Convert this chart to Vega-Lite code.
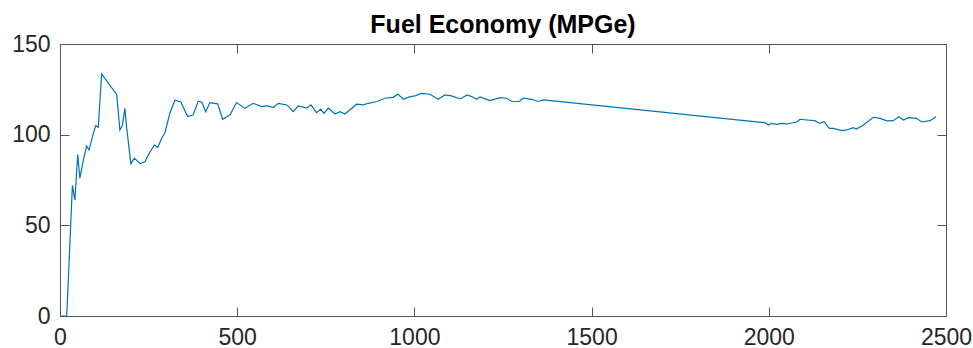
{
  "$schema": "https://vega.github.io/schema/vega-lite/v6.json",
  "width": 886,
  "height": 272,
  "autosize": "none",
  "padding": {"left": 60, "top": 44, "right": 27, "bottom": 32},
  "background": "white",
  "title": {"text": "Fuel Economy (MPGe)", "font": "Liberation Sans", "fontSize": 25, "fontWeight": "bold", "color": "#000000", "anchor": "middle", "baseline": "bottom", "offset": 4, "dy": 34},
  "config": {"view": {"stroke": null}},
  "data": {"values": [
    {"d": 0, "m": 0}, {"d": 14, "m": 0}, {"d": 19, "m": 0}, {"d": 35, "m": 72}, {"d": 42, "m": 64},
    {"d": 50, "m": 89}, {"d": 56, "m": 76}, {"d": 66, "m": 86}, {"d": 75, "m": 93.7}, {"d": 82, "m": 91.5},
    {"d": 94, "m": 100.7}, {"d": 101, "m": 105}, {"d": 108, "m": 104}, {"d": 117.5, "m": 133.5}, {"d": 160, "m": 122},
    {"d": 169, "m": 102.6}, {"d": 176, "m": 105}, {"d": 183, "m": 114.5}, {"d": 188, "m": 104}, {"d": 200, "m": 84},
    {"d": 210, "m": 87}, {"d": 226, "m": 84}, {"d": 240, "m": 85}, {"d": 249, "m": 88.8}, {"d": 266, "m": 94.3},
    {"d": 276, "m": 93}, {"d": 287, "m": 98}, {"d": 296, "m": 101}, {"d": 310, "m": 111.8}, {"d": 324, "m": 119},
    {"d": 341, "m": 118}, {"d": 360, "m": 110}, {"d": 376, "m": 111}, {"d": 390, "m": 118.5}, {"d": 400, "m": 118},
    {"d": 411, "m": 112.7}, {"d": 423, "m": 117.7}, {"d": 445, "m": 117}, {"d": 459, "m": 108.5}, {"d": 480, "m": 111},
    {"d": 498, "m": 117.7}, {"d": 522, "m": 114.5}, {"d": 545, "m": 117.3}, {"d": 569, "m": 115.5}, {"d": 583, "m": 116},
    {"d": 602, "m": 115}, {"d": 616, "m": 117.3}, {"d": 640, "m": 116.4}, {"d": 658, "m": 112.7}, {"d": 672, "m": 115.8},
    {"d": 696, "m": 114.6}, {"d": 708, "m": 116.4}, {"d": 724, "m": 112.1}, {"d": 735, "m": 114}, {"d": 745, "m": 111.8},
    {"d": 757, "m": 114.6}, {"d": 776, "m": 111.4}, {"d": 790, "m": 112.7}, {"d": 804, "m": 111.4}, {"d": 837, "m": 116.8},
    {"d": 856, "m": 116.4}, {"d": 870, "m": 117.3}, {"d": 894, "m": 118.3}, {"d": 917, "m": 120.1}, {"d": 940, "m": 120.6},
    {"d": 953, "m": 122.4}, {"d": 969, "m": 119.5}, {"d": 988, "m": 121}, {"d": 1002, "m": 121.4}, {"d": 1020, "m": 122.8},
    {"d": 1044, "m": 122.3}, {"d": 1067, "m": 119.5}, {"d": 1086, "m": 121.9}, {"d": 1105, "m": 121.4}, {"d": 1129, "m": 119.7},
    {"d": 1149, "m": 121.9}, {"d": 1166, "m": 120.6}, {"d": 1176, "m": 119.5}, {"d": 1185, "m": 120.8}, {"d": 1213, "m": 118.8},
    {"d": 1242, "m": 120.4}, {"d": 1260, "m": 120.1}, {"d": 1275, "m": 118.3}, {"d": 1296, "m": 118.3}, {"d": 1307, "m": 120.1},
    {"d": 1331, "m": 119.5}, {"d": 1348, "m": 118.3}, {"d": 1364, "m": 119.2}, {"d": 1989, "m": 106.6}, {"d": 1999, "m": 105.3},
    {"d": 2008, "m": 106.2}, {"d": 2022, "m": 105.7}, {"d": 2036, "m": 106.2}, {"d": 2050, "m": 105.9}, {"d": 2079, "m": 107},
    {"d": 2088, "m": 108.5}, {"d": 2107, "m": 108.1}, {"d": 2130, "m": 107.7}, {"d": 2143, "m": 106.2}, {"d": 2156, "m": 107.2},
    {"d": 2171, "m": 103.5}, {"d": 2182, "m": 103.5}, {"d": 2206, "m": 102.2}, {"d": 2220, "m": 102.6}, {"d": 2238, "m": 103.9},
    {"d": 2247, "m": 103.1}, {"d": 2266, "m": 105.2}, {"d": 2295, "m": 109.6}, {"d": 2314, "m": 109}, {"d": 2333, "m": 107.6},
    {"d": 2351, "m": 107.7}, {"d": 2367, "m": 109.9}, {"d": 2380, "m": 108.1}, {"d": 2394, "m": 109.4}, {"d": 2417, "m": 109},
    {"d": 2431, "m": 107}, {"d": 2455, "m": 107.7}, {"d": 2472, "m": 109.9}
  ]},
  "resolve": {"axis": {"x": "independent", "y": "independent"}},
  "layer": [
    {
      "mark": {"type": "line", "color": "#0072BD", "strokeWidth": 1.2, "clip": true},
      "encoding": {
        "x": {"field": "d", "type": "quantitative", "scale": {"domain": [0, 2500], "nice": false, "zero": false},
              "axis": {"orient": "bottom", "title": null, "grid": false, "values": [0, 500, 1000, 1500, 2000, 2500], "format": "d",
                       "tickSize": -9, "tickColor": "#555555", "domainColor": "#555555", "domainWidth": 1, "tickWidth": 1,
                       "labelFont": "Liberation Sans", "labelFontSize": 23, "labelColor": "#262626", "labelPadding": 19, "labelFlush": false}},
        "y": {"field": "m", "type": "quantitative", "scale": {"domain": [0, 150], "nice": false, "zero": false},
              "axis": {"orient": "left", "title": null, "grid": false, "values": [0, 50, 100, 150], "format": "d",
                       "tickSize": -9, "tickColor": "#555555", "domainColor": "#555555", "domainWidth": 1, "tickWidth": 1,
                       "labelFont": "Liberation Sans", "labelFontSize": 23, "labelColor": "#262626", "labelPadding": 19, "labelFlush": false}}
      }
    },
    {
      "mark": {"type": "line", "opacity": 0},
      "encoding": {
        "x": {"field": "d", "type": "quantitative",
              "axis": {"orient": "top", "title": null, "grid": false, "labels": false, "values": [0, 500, 1000, 1500, 2000, 2500],
                       "tickSize": -9, "tickColor": "#555555", "domainColor": "#555555", "domainWidth": 1, "tickWidth": 1}},
        "y": {"field": "m", "type": "quantitative",
              "axis": {"orient": "right", "title": null, "grid": false, "labels": false, "values": [0, 50, 100, 150],
                       "tickSize": -9, "tickColor": "#555555", "domainColor": "#555555", "domainWidth": 1, "tickWidth": 1}}
      }
    }
  ]
}
